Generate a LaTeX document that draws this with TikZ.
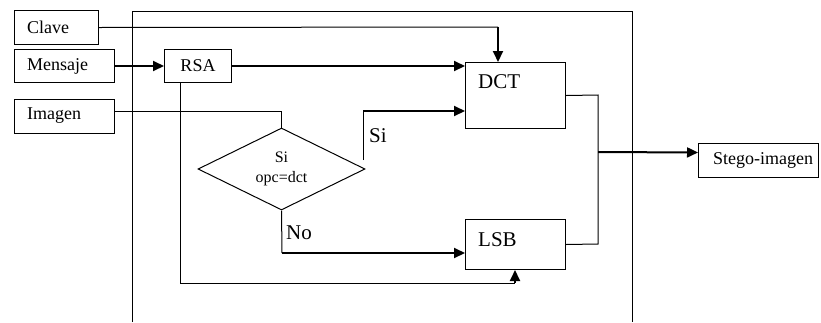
\documentclass[tikz,border=0pt]{standalone}
\usepackage{fontspec}
\setmainfont{Liberation Serif}
\usetikzlibrary{arrows.meta,shapes.geometric}
\begin{document}
\begin{tikzpicture}[x=1pt,y=-1pt,
  box/.style={draw, line width=1pt, inner sep=0pt, anchor=north west},
  lbl/.style={font=\fontsize{18}{20}\selectfont, anchor=west, inner sep=0pt},
  big/.style={font=\fontsize{21}{24}\selectfont, anchor=west, inner sep=0pt},
  wire/.style={line width=1pt},
  bus/.style={line width=2pt},
  tip/.style={-{Triangle[length=11pt,width=10pt]}}]
\useasboundingbox (0,0) rectangle (821,322);
% frame
\coordinate (f1) at (132,322);
\coordinate (f2) at (132,11);
\coordinate (f3) at (632,11);
\coordinate (f4) at (632,322);
\draw[wire] (f1) -- (f2) -- (f3) -- (f4);
% input boxes
\node[box, minimum width=84pt, minimum height=34pt] (clave) at (14,10) {};
\node[lbl] (clavet) at (27,27) {Clave};
\node[box, minimum width=100pt, minimum height=33pt] (mensaje) at (14,49) {};
\node[lbl] (mensajet) at (27,66) {Mensaje};
\node[box, minimum width=100pt, minimum height=34pt] (imagen) at (14,99) {};
\node[lbl] (imagent) at (27,116) {Imagen};
% RSA
\node[box, minimum width=67pt, minimum height=33pt,
      font=\fontsize{18}{20}\selectfont] (rsa) at (164,49) {RSA};
% DCT, LSB
\node[box, minimum width=100pt, minimum height=66pt] (dct) at (465,62) {};
\node[big] (dctt) at (478,82) {DCT};
\node[box, minimum width=100pt, minimum height=50pt] (lsb) at (465,219) {};
\node[big] (lsbt) at (478,240) {LSB};
% output
\node[box, minimum width=120pt, minimum height=34pt] (stego) at (698,143) {};
\node[lbl] (stegot) at (713,160) {Stego-imagen};
% decision
\node[draw, wire, diamond, shape aspect=2, minimum width=167pt, minimum height=82pt,
      inner sep=0pt, align=center, font=\fontsize{16}{20}\selectfont] (dec) at (281.5,169)
      {Si\\opc=dct};
% connectors
\coordinate (k1) at (498,27);
\draw[wire] (clave.east) -- (k1);
\draw[bus, tip] (k1) -- (k1 |- dct.north);
\draw[bus, tip] (mensaje.east) -- (rsa.west);
\draw[bus, tip] (rsa.east) -- (rsa.east -| dct.west);
\coordinate (r1) at (180,82);
\coordinate (r2) at (515,283);
\draw[wire] (r1) |- (r2);
\draw[bus, tip] (r2) -- (r2 |- lsb.south);
\draw[wire] ([yshift=5pt]imagen.east) -| (dec.north);
\coordinate (s1) at (363,160);
\coordinate (s2) at (363,111);
\draw[wire] (s1) -- (s2);
\draw[bus, tip] (s2) -- (s2 -| dct.west);
\node[big, anchor=west] (sil) at (369,136) {Si};
\coordinate (n1) at (282,253);
\draw[wire] (dec.south) -- (n1);
\draw[bus, tip] (n1) -- (n1 -| lsb.west);
\node[big, anchor=west] (nol) at (286,233) {No};
\coordinate (j1) at (598,95);
\coordinate (j2) at (598,244);
\draw[wire] (dct.east) -- (j1) -- (j2) -- (lsb.east);
\coordinate (j0) at (598,152);
\draw[bus, tip] (j0) -- ([yshift=8pt]stego.west);
\end{tikzpicture}
\end{document}
